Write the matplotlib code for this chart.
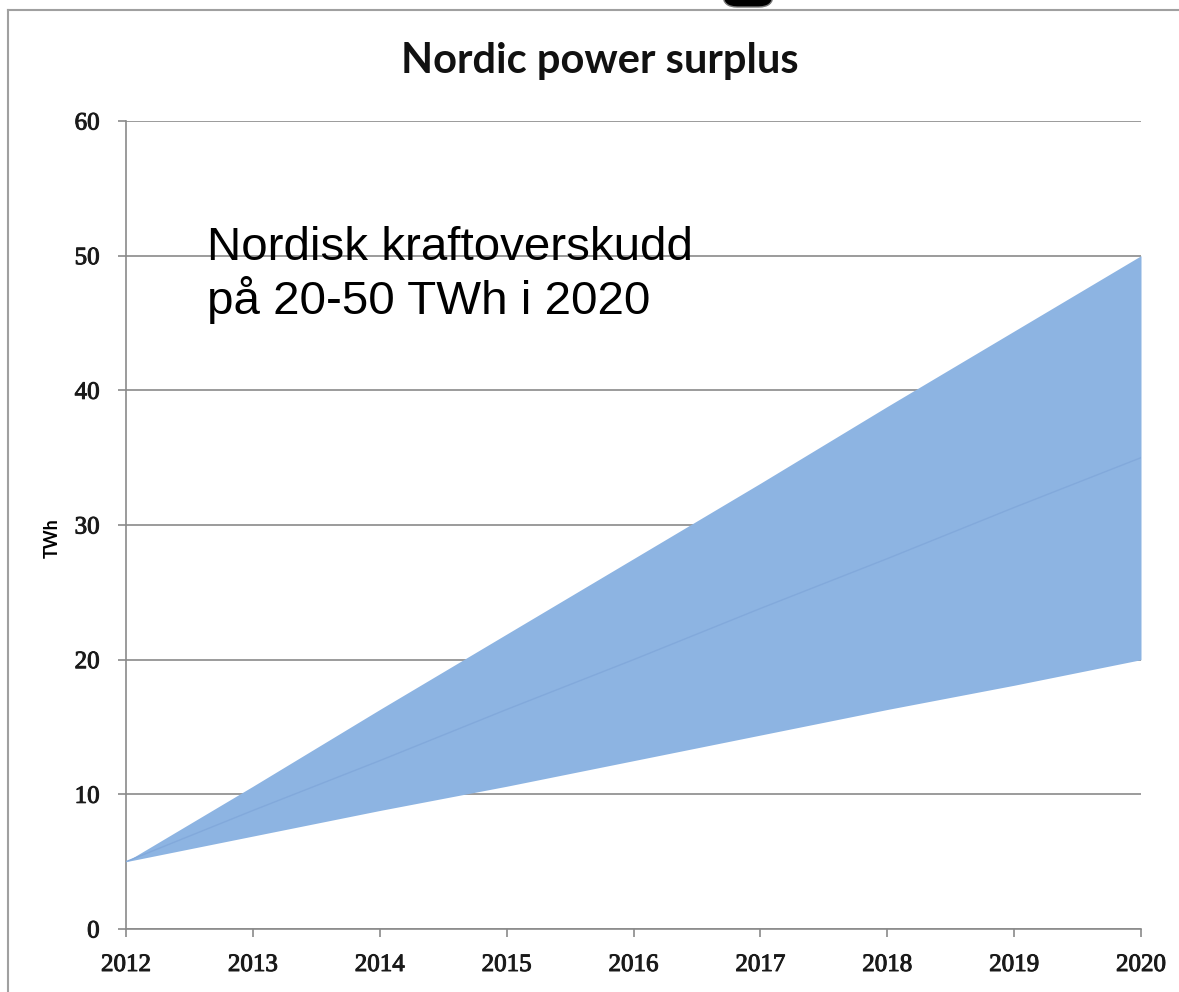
import matplotlib
matplotlib.use("Agg")
import matplotlib.pyplot as plt
import matplotlib.patheffects as pe
from matplotlib.lines import Line2D
from matplotlib.patches import FancyBboxPatch

# data
years = [2012, 2013, 2014, 2015, 2016, 2017, 2018, 2019, 2020]
high = [5, 10.6, 16.3, 21.9, 27.5, 33.1, 38.8, 44.4, 50]
low = [5, 6.9, 8.8, 10.6, 12.5, 14.4, 16.3, 18.1, 20]
mid = [5, 8.8, 12.5, 16.3, 20, 23.8, 27.5, 31.3, 35]
yticks = [0, 10, 20, 30, 40, 50, 60]

W, H = 1179, 992
fig = plt.figure(figsize=(W / 100, H / 100), dpi=100)
ax = fig.add_axes([126 / W, 63 / H, (1141 - 126) / W, (929 - 121) / H])

grey = "#8a8a8a"
ax.fill_between(years, low, high, color="#8db4e2", linewidth=0, zorder=3)
ax.plot(years, mid, color="#82a9db", linewidth=1.0, zorder=4)

ax.set_xlim(2012, 2020)
ax.set_ylim(0, 60)
ax.set_xticks(years)
ax.set_yticks(yticks)
ax.yaxis.grid(True, color=grey, linewidth=1.2, zorder=1)
ax.set_axisbelow(True)

for s in ["top", "right"]:
    ax.spines[s].set_visible(False)
for s in ["left", "bottom"]:
    ax.spines[s].set_color(grey)
    ax.spines[s].set_linewidth(1.2)

ax.tick_params(axis="both", direction="out", length=6, width=1.2, color=grey,
               labelcolor="#1a1a1a")
ax.tick_params(axis="y", pad=13)
ax.tick_params(axis="x", pad=12)
for lab in ax.get_xticklabels() + ax.get_yticklabels():
    lab.set_fontfamily("Liberation Serif")
    lab.set_fontsize(18)
    lab.set_path_effects([pe.withStroke(linewidth=0.7, foreground="#1a1a1a")])

fig.text(52 / W, 1 - 538 / H, "TWh", rotation=90, ha="center", va="center",
         family="Lato", fontweight="bold", fontsize=13)

fig.text(600 / W, 1 - 73 / H, "Nordic power surplus", ha="center", va="baseline",
         family="Lato", fontweight="bold", fontsize=30, color="#111111")

ax.text(207 / W, 1 - 226 / H, "Nordisk kraftoverskudd\npå 20-50 TWh i 2020",
        transform=fig.transFigure, ha="left", va="top", linespacing=1.15,
        family="Liberation Sans", fontsize=34.2, color="black", zorder=6)

# frame of the original picture and the dark tab at the top
fig.add_artist(Line2D([8 / W, 8 / W], [0, 1 - 10 / H], transform=fig.transFigure,
                      color="#a0a0a0", linewidth=1.5))
fig.add_artist(Line2D([8 / W, 1], [1 - 10 / H, 1 - 10 / H], transform=fig.transFigure,
                      color="#a0a0a0", linewidth=1.5))
fig.add_artist(FancyBboxPatch((723 / W, 1 - 7 / H), 50 / W, 20 / H,
                              boxstyle="round,pad=0,rounding_size=0.012",
                              transform=fig.transFigure,
                              facecolor="black", edgecolor="#777777",
                              linewidth=1))

fig.savefig("out.png", dpi=100)
